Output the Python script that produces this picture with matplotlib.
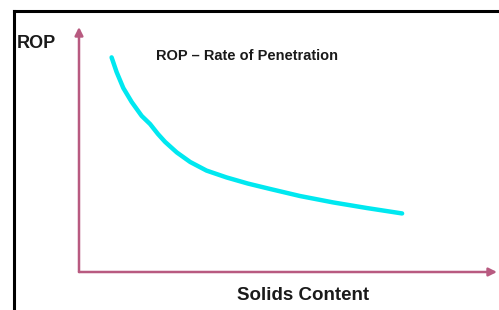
import matplotlib
matplotlib.use("Agg")
import matplotlib.pyplot as plt
from matplotlib.lines import Line2D

# Data (arbitrary units)
solids = [0.78, 0.90, 1.06, 1.26, 1.50, 1.70, 1.89, 2.06, 2.34, 2.66, 3.05, 3.53, 4.04, 4.57,
          5.29, 6.08, 6.89, 7.73]
rop = [8.76, 8.16, 7.51, 6.94, 6.37, 6.04, 5.63, 5.31, 4.88, 4.49, 4.14, 3.86, 3.61, 3.39,
       3.10, 2.84, 2.61, 2.39]

W, H = 499, 310
fig = plt.figure(figsize=(W / 100, H / 100), dpi=100)
fig.patch.set_facecolor("white")

def px(x, y):
    return x / W, 1 - y / H

# Frame lines (left and top)
fig.add_artist(Line2D([14 / W, 14 / W], [0, 1 - 11 / H], color="black", lw=2.2, transform=fig.transFigure))
fig.add_artist(Line2D([14 / W, 1], [1 - 11 / H, 1 - 11 / H], color="black", lw=2.2, transform=fig.transFigure))

x0, y0, x1, y1 = 79, 272, 497, 27
ax = fig.add_axes([x0 / W, 1 - y0 / H, (x1 - x0) / W, (y0 - y1) / H])
ax.set_xlim(0, 10)
ax.set_ylim(0, 10)
ax.axis("off")

axis_color = "#b85a80"
ax.annotate("", xy=(1, 0), xytext=(0, 0), xycoords="axes fraction",
            arrowprops=dict(arrowstyle="-|>", color=axis_color, lw=1.8, mutation_scale=12,
                            shrinkA=0, shrinkB=0), annotation_clip=False)
ax.annotate("", xy=(0, 1), xytext=(0, 0), xycoords="axes fraction",
            arrowprops=dict(arrowstyle="-|>", color=axis_color, lw=1.8, mutation_scale=12,
                            shrinkA=0, shrinkB=0), annotation_clip=False)

ax.plot(solids, rop, color="#00e8f0", lw=3.2, solid_capstyle="round",
        solid_joinstyle="round", clip_on=False)

fig.text(*px(17, 43), "ROP", fontsize=13, fontweight="bold", family="Liberation Sans",
         ha="left", va="center", color="#1a1a1a")
fig.text(*px(156, 56), "ROP \u2013 Rate of Penetration", fontsize=10.5, fontweight="bold",
         family="Liberation Sans", ha="left", va="center", color="#1a1a1a")
fig.text(*px(237, 296), "Solids Content", fontsize=13.5, fontweight="bold", family="Liberation Sans",
         ha="left", va="center", color="#1a1a1a")

fig.savefig("out.png", dpi=100)
